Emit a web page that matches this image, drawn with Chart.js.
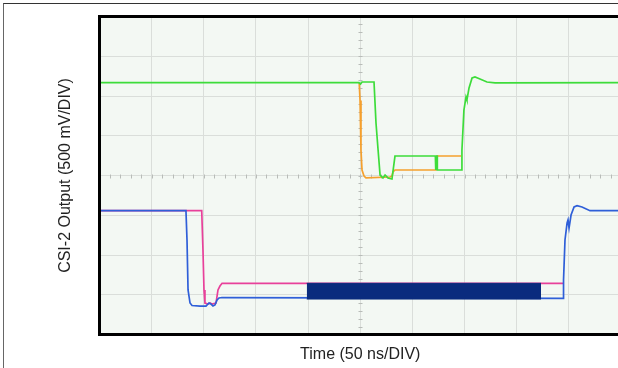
<!DOCTYPE html>
<html>
<head>
<meta charset="utf-8">
<script src="https://cdn.jsdelivr.net/npm/chart.js@4.4.1/dist/chart.umd.min.js"></script>
<style>
    html, body { margin: 0; padding: 0; background: #fff; overflow: hidden; width: 618px; height: 368px; }
    #frame { position: absolute; left: 3px; top: 3px; width: 700px; height: 400px; border-top: 1px solid #333; border-left: 1px solid #666; }
    #chart { position: absolute; left: 0; top: 0; }
</style>
</head>
<body>
<div id="frame"></div>
<canvas id="chart" width="640" height="368"></canvas>
<script>
// time in ns (50 ns/DIV), level in mV (500 mV/DIV)
let greenTime = [0, 248.8, 250.3, 251.7, 263.2, 265.1, 267.1, 269.0, 271.8, 273.8, 276.6, 280.4, 283.3, 322.0, 322.0, 322.6, 322.6, 323.9, 323.9, 346.6, 347.5, 349.4, 351.4, 352.3, 354.3, 357.2, 360.0, 364.8, 371.5, 379.2, 500]
let greenLevel = [1167, 1167, 1151, 1176, 1176, 660, 321, 6, -31, 6, -31, -44, 245, 245, 69, 69, 245, 245, 69, 69, 321, 824, 988, 950, 1101, 1227, 1239, 1214, 1176, 1164, 1167]

let orangeTime = [249.0, 249.8, 250.7, 251.7, 253.6, 255.5, 278.5, 280.4, 281.4, 283.3, 322.6, 323.6, 346.6]
let orangeLevel = [1164, 943, 321, 69, -6, -31, -19, -6, 44, 69, 69, 245, 245]

let pinkTime = [0, 98.0, 99.2, 100.2, 101.1, 104.0, 106.0, 107.8, 111.7, 113.6, 115.5, 117.5, 444.4]
let pinkLevel = [-443, -443, -937, -1440, -1604, -1617, -1604, -1617, -1604, -1440, -1390, -1356, -1356]

let blueTime = [0, 82.9, 83.9, 84.9, 86.8, 88.7, 96.4, 102.1, 105.0, 106.9, 108.8, 110.7, 112.7, 114.6, 117.5, 444.4, 444.9, 446.3, 448.3, 449.2, 450.2, 452.1, 455.0, 457.9, 462.6, 470.3, 500]
let blueLevel = [-443, -443, -811, -1440, -1604, -1635, -1642, -1642, -1604, -1617, -1642, -1629, -1566, -1541, -1535, -1545, -1315, -811, -598, -560, -660, -497, -396, -380, -396, -443, -443]

// fast toggling data burst (too dense to resolve at this scale)
let burstTime = [198.7, 423.3]
let burstHigh = -1356
let burstLow = -1554

let xTicks = [0, 50, 100, 150, 200, 250, 300, 350, 400, 450, 500]
let yTicks = [-2000, -1500, -1000, -500, 0, 500, 1000, 1500, 2000]

let toPoints = (xs, ys) => xs.map((x, i) => ({ x: x, y: Array.isArray(ys) ? ys[i] : ys }))

let trace = (label, xs, ys, colour) => ({
    label: label,
    data: toPoints(xs, ys),
    borderColor: colour,
    borderWidth: 1.7,
    pointRadius: 0,
    tension: 0,
    fill: false
})

let scopePlugin = {
    id: 'scope',
    beforeDraw(chart) {
        let { ctx, chartArea: a } = chart
        ctx.save()
        ctx.fillStyle = '#f3f8f3'
        ctx.fillRect(a.left, a.top, a.right - a.left, a.bottom - a.top)
        ctx.restore()
    },
    beforeDatasetsDraw(chart) {
        // minor ticks on the centre graticule lines
        let { ctx, scales: { x, y } } = chart
        let cx = Math.round(x.getPixelForValue(250)) + 0.5
        let cy = Math.round(y.getPixelForValue(0)) + 0.5
        ctx.save()
        ctx.strokeStyle = '#b8bcb8'
        ctx.lineWidth = 1
        ctx.beginPath()
        for (let t = 0; t <= 500; t += 10) {
            let px = Math.round(x.getPixelForValue(t)) + 0.5
            ctx.moveTo(px, cy - 2); ctx.lineTo(px, cy + 2)
        }
        for (let v = -2000; v <= 2000; v += 100) {
            let py = Math.round(y.getPixelForValue(v)) + 0.5
            ctx.moveTo(cx - 2, py); ctx.lineTo(cx + 2, py)
        }
        ctx.stroke()
        ctx.restore()
    },
    afterDraw(chart) {
        let { ctx, chartArea: a } = chart
        ctx.save()
        ctx.strokeStyle = '#000'
        ctx.lineWidth = 3
        ctx.strokeRect(a.left, a.top, a.right - a.left, a.bottom - a.top)
        ctx.restore()
    }
}

let font = { family: "'Liberation Sans', Arial, sans-serif", size: 16 }

const config = {
    type: 'line',
    data: {
        datasets: [
            {
                label: 'burst',
                data: toPoints(burstTime, burstHigh),
                borderColor: '#0a2b7e',
                backgroundColor: '#0a2b7e',
                borderWidth: 1,
                pointRadius: 0,
                fill: '+1'
            },
            {
                label: 'burst low',
                data: toPoints(burstTime, burstLow),
                borderColor: '#0a2b7e',
                borderWidth: 1,
                pointRadius: 0,
                fill: false
            },
            trace('D0N', blueTime, blueLevel, '#2f5fd8'),
            trace('D0P', pinkTime, pinkLevel, '#e8409a'),
            trace('CLKP', greenTime, greenLevel, '#3ddc3a'),
            trace('CLKN', orangeTime, orangeLevel, '#f5a02e')
        ]
    },
    options: {
        responsive: false,
        animation: false,
        events: [],
        layout: { padding: { left: 50, top: 16.5, right: 19, bottom: 0 } },
        plugins: { legend: { display: false }, tooltip: { enabled: false } },
        scales: {
            x: {
                type: 'linear',
                min: 0,
                max: 500,
                afterBuildTicks: (s) => { s.ticks = xTicks.map(v => ({ value: v })) },
                ticks: { display: false },
                border: { display: false },
                grid: { color: '#dadeda', lineWidth: 1, drawTicks: false },
                title: {
                    display: true,
                    text: 'Time (50 ns/DIV)',
                    color: '#222',
                    font: font,
                    padding: { top: 10.4, bottom: 3.9 }
                }
            },
            y: {
                type: 'linear',
                min: -2000,
                max: 2000,
                afterBuildTicks: (s) => { s.ticks = yTicks.map(v => ({ value: v })) },
                ticks: { display: false },
                border: { display: false },
                grid: { color: '#dadeda', lineWidth: 1, drawTicks: false },
                title: {
                    display: true,
                    text: 'CSI-2 Output (500 mV/DIV)',
                    color: '#222',
                    font: font,
                    padding: { top: 6.4, bottom: 23.9 }
                }
            }
        }
    },
    plugins: [scopePlugin]
}

new Chart(document.getElementById('chart'), config)
</script>
</body>
</html>
